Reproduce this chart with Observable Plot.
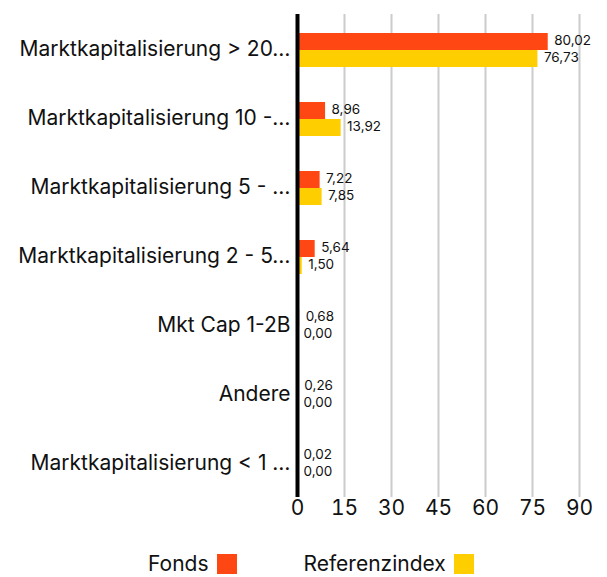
<!DOCTYPE html>
<html>
<head>
<meta charset="utf-8">
<script src="https://cdn.jsdelivr.net/npm/d3@7"></script>
<script src="https://cdn.jsdelivr.net/npm/@observablehq/plot@0.6"></script>
<style>
  body { margin: 0; background: #fff; font-family: Inter, "Noto Sans", sans-serif; overflow: hidden; }
  #chart svg { display: block; }
  #legend { display: flex; align-items: center; padding-left: 148px; margin-top: 17px; height: 20px; line-height: 20px; font-size: 21px; color: #111; }
  .item { display: flex; align-items: center; height: 20px; }
  .sw { width: 20px; height: 20px; margin-left: 8px; }
</style>
</head>
<body>
<div id="chart"></div>
<div id="legend"></div>
<script>
const categories = [
  "Marktkapitalisierung > 20…",
  "Marktkapitalisierung 10 -…",
  "Marktkapitalisierung 5 - …",
  "Marktkapitalisierung 2 - 5…",
  "Mkt Cap 1-2B",
  "Andere",
  "Marktkapitalisierung < 1 …"
];
const fonds = [80.02, 8.96, 7.22, 5.64, 0.68, 0.26, 0.02];
const referenz = [76.73, 13.92, 7.85, 1.50, 0.00, 0.00, 0.00];
const xTicks = [0, 15, 30, 45, 60, 75, 90];
const seriesNames = ["Fonds", "Referenzindex"];
const colors = ["#FF4713", "#FFCE00"];

const fondsData = categories.map((c, i) => ({category: c, value: fonds[i]}));
const refData = categories.map((c, i) => ({category: c, value: referenz[i]}));
const fmt = v => v.toFixed(2).replace(".", ",");

const chart = Plot.plot({
  width: 607,
  height: 537,
  marginTop: 14,
  marginBottom: 40,
  marginLeft: 297,
  marginRight: 28,
  style: {fontFamily: "Inter, 'Noto Sans', sans-serif", fontSize: "21px", color: "#111"},
  x: {domain: [0, 90], ticks: xTicks, tickSize: 0, tickPadding: 3, label: null, tickFormat: d => d},
  y: {domain: categories, padding: 0, round: false, tickSize: 0, tickPadding: 7, label: null},
  marks: [
    Plot.ruleX(xTicks.slice(1), {stroke: "#cccccc", strokeWidth: 2}),
    Plot.barX(fondsData, {x: "value", y: "category", fill: colors[0], insetTop: 19, insetBottom: 33}),
    Plot.barX(refData, {x: "value", y: "category", fill: colors[1], insetTop: 36, insetBottom: 16}),
    Plot.text(fondsData, {x: "value", y: "category", text: d => fmt(d.value), dx: 6, dy: -8, textAnchor: "start", fontSize: 13.5, fill: "#111"}),
    Plot.text(refData, {x: "value", y: "category", text: d => fmt(d.value), dx: 6, dy: 9, textAnchor: "start", fontSize: 13.5, fill: "#111"}),
    Plot.ruleX([0], {stroke: "#000", strokeWidth: 4})
  ]
});
document.getElementById("chart").appendChild(chart);

const legend = document.getElementById("legend");
seriesNames.forEach((name, i) => {
  const item = document.createElement("div");
  item.className = "item";
  if (i > 0) item.style.marginLeft = "67px";
  const label = document.createElement("span");
  label.textContent = name;
  const sw = document.createElement("span");
  sw.className = "sw";
  sw.style.background = colors[i];
  item.appendChild(label);
  item.appendChild(sw);
  legend.appendChild(item);
});
</script>
</body>
</html>
